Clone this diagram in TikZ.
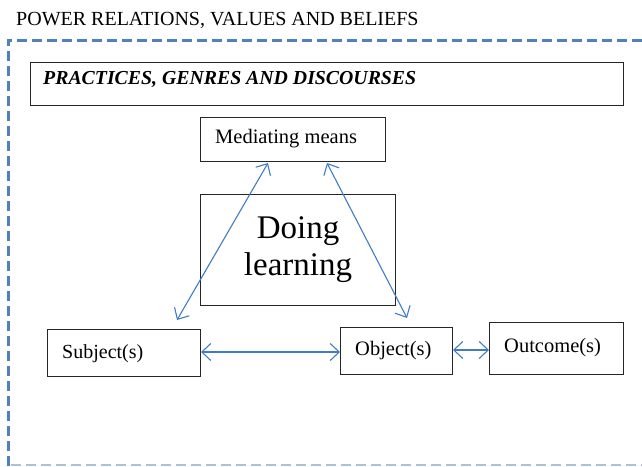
\documentclass[tikz,border=0pt]{standalone}
\usepackage{fontspec}
\setmainfont{Liberation Serif}
\usetikzlibrary{arrows.meta}
\definecolor{linkblue}{HTML}{3F7CC4}
\definecolor{frameblue}{HTML}{4F81BD}
\definecolor{paleblue}{HTML}{A9C1DD}
\tikzset{
  box/.style={draw=black!85, line width=1pt, inner sep=0pt},
  tip/.style={Straight Barb[length=9pt,width=17pt,line width=1.1pt]},
  link/.style={draw=linkblue, line width=1.1pt, {Straight Barb[length=9pt,width=17pt,line width=1.1pt]}-{Straight Barb[length=9pt,width=17pt,line width=1.1pt]}},
  label/.style={font=\fontsize{20}{22}\selectfont, anchor=base west, inner sep=0pt},
}
\begin{document}
\begin{tikzpicture}[x=1pt,y=-1pt]
\useasboundingbox (0,0) rectangle (642,466);
% outer frame
\draw[frameblue, line width=3pt, dash pattern=on 10pt off 5pt] (8,466) -- (8,40) -- (650,40);
\draw[paleblue, line width=2pt, dash pattern=on 10pt off 5pt] (11,465) -- (650,465);
\node[label] (title) at (16,25) {POWER RELATIONS, VALUES AND BELIEFS};
% boxes
\node[box, minimum width=593pt, minimum height=43pt, anchor=north west] (prac) at (30,62) {};
\node[label, font=\fontsize{19.8}{22}\selectfont\itshape\bfseries] (practxt) at (43,84) {PRACTICES, GENRES AND DISCOURSES};
\node[box, minimum width=185pt, minimum height=44pt, anchor=north west] (med) at (200,117) {};
\node[label, font=\fontsize{20.5}{22}\selectfont] (medtxt) at (215,143) {Mediating means};
\node[box, minimum width=195pt, minimum height=111pt, anchor=north west] (doing) at (200,194) {};
\node[font=\fontsize{33}{37}\selectfont, align=center, inner sep=0pt] (doingtxt) at (298,250) {Doing\\learning};
\node[box, minimum width=153pt, minimum height=47pt, anchor=north west] (subj) at (47,329) {};
\node[label] (subjtxt) at (62,358) {Subject(s)};
\node[box, minimum width=112pt, minimum height=47pt, anchor=north west] (obj) at (340,327) {};
\node[label, font=\fontsize{20.5}{22}\selectfont] (objtxt) at (355,355) {Object(s)};
\node[box, minimum width=134pt, minimum height=52pt, anchor=north west] (out) at (489,322) {};
\node[label, font=\fontsize{20.5}{22}\selectfont] (outtxt) at (504,352) {Outcome(s)};
% connectors
\coordinate (m1) at (268,163);
\coordinate (s1) at (177,320);
\coordinate (m2) at (327,163);
\coordinate (o1) at (407,318);
\draw[link] (s1) -- (m1);
\draw[link] (m2) -- (o1);
\draw[link] (subj.east |- 0,352) -- (obj.west |- 0,352);
\draw[link] (obj.east |- 0,350) -- (out.west |- 0,350);
\end{tikzpicture}
\end{document}
